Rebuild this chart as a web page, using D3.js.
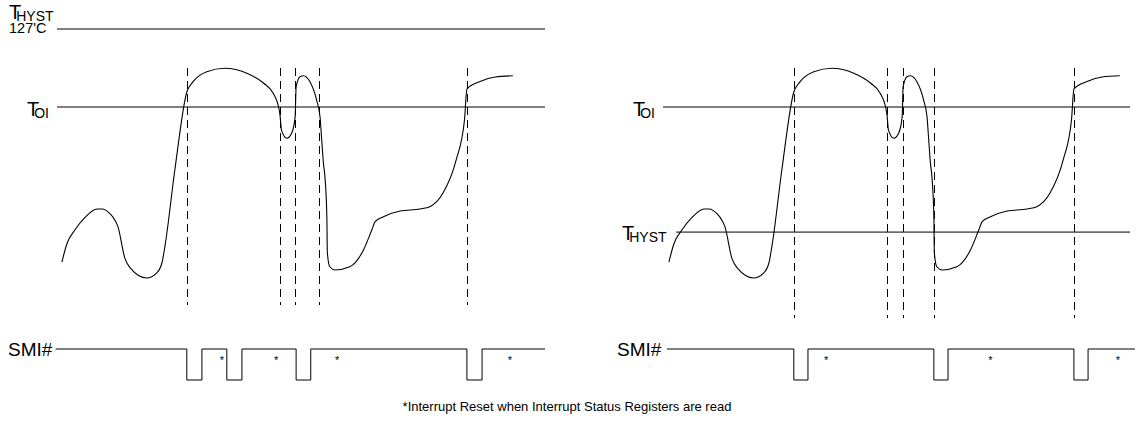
<!DOCTYPE html>
<html>
<head>
<meta charset="utf-8">
<script src="https://cdn.jsdelivr.net/npm/d3@7"></script>
<style>
  body { margin: 0; background: #fff; }
  text { font-family: "Liberation Sans", Arial, sans-serif; fill: #000; }
</style>
</head>
<body>
<div class="chart"></div>
<script>
var svgWidth = 1141;
var svgHeight = 425;

// temperature trace (time units, deg C) - same trace in both panels
var traceTime = [1.0, 2.0, 3.7, 5.6, 8.2, 9.2, 11.0, 11.8, 12.5, 13.9, 15.0, 18.4, 20.4, 21.5, 22.1, 24.2, 26.6,
  27.9, 30.7, 34.4, 38.9, 42.3, 44.3, 45.3, 45.7, 46.0, 47.1, 48.1, 48.8, 49.0, 49.8, 50.5, 51.8,
  53.2, 53.9, 54.2, 54.6, 54.9, 55.3, 55.4, 55.9, 57.0, 60.0, 62.8, 64.5, 65.2, 66.9, 70.3, 74.4,
  76.4, 79.1, 81.8, 83.5, 84.0, 86.7, 89.8, 93.4];
var traceTemp = [46.3, 52.5, 57.5, 61.5, 64.7, 64.7, 62.8, 61.0, 58.5, 47.7, 44.3, 40.8, 42.5, 46.0, 51.6, 78.9, 105.2,
  108.8, 112.2, 113.4, 111.7, 108.3, 104.8, 100.7, 97.2, 92.0, 89.2, 91.0, 96.6, 107.0, 110.5, 110.8, 108.8,
  102.4, 96.6, 89.7, 80.5, 75.9, 62.0, 49.5, 44.7, 43.6, 44.7, 50.5, 57.4, 60.3, 62.0, 64.0, 64.7,
  65.5, 70.2, 81.7, 95.5, 106.2, 108.8, 110.4, 110.8];

// thresholds
var tOI = 100;
var tHystLeft = 127;
var tHystRight = 56.7;

// event markers (dashed lines)
var eventsLeft = [26.6, 45.7, 48.8, 53.7, 84.0];
var eventsRight = [26.6, 45.7, 49.0, 55.3, 84.0];

// SMI# low pulses [start, end]
var pulsesLeft = [[26.6, 29.7], [34.8, 37.9], [49.0, 52.0], [84.0, 87.1]];
var pulsesRight = [[26.6, 29.5], [55.3, 58.2], [84.0, 86.9]];

// reset markers
var starsLeft = [33.8, 44.9, 57.4, 92.8];
var starsRight = [33.2, 66.9, 93.0];

var footnote = "*Interrupt Reset when Interrupt Status Registers are read";

var svg = d3.select(".chart")
  .append("svg")
  .attr("width", svgWidth)
  .attr("height", svgHeight);

var x = d3.scaleLinear().domain([0, 100]).range([57, 545]);
var y = d3.scaleLinear().domain([100, 127]).range([107, 29]);
var ySmi = d3.scaleLinear().domain([0, 1]).range([380, 349]);

var traceLine = d3.line()
  .x(d => x(d[0]))
  .y(d => y(d[1]))
  .curve(d3.curveMonotoneX);

var trace = traceTime.map((t, i) => [t, traceTemp[i]]);

function smiPoints(pulses, t0, t1) {
  var pts = [[t0, 1]];
  pulses.forEach(function(p) {
    pts.push([p[0], 1], [p[0], 0], [p[1], 0], [p[1], 1]);
  });
  pts.push([t1, 1]);
  return pts;
}

var smiLine = d3.line()
  .x(d => x(d[0]))
  .y(d => ySmi(d[1]));

// label T with subscript
function subLabel(g, px, py, sub, dx) {
  var t = g.append("text")
    .attr("x", px)
    .attr("y", py)
    .attr("font-size", 20)
    .text("T");
  t.append("tspan")
    .attr("dx", dx)
    .attr("dy", 1.5)
    .attr("font-size", 14)
    .text(sub);
}

function drawPanel(offset, opts) {
  var g = svg.append("g").attr("transform", `translate(${offset},0)`);

  // threshold lines
  opts.thresholds.forEach(function(th) {
    g.append("line")
      .attr("x1", x(th.from)).attr("x2", x(th.to))
      .attr("y1", y(th.value)).attr("y2", y(th.value))
      .attr("stroke", "#000").attr("stroke-width", 1);
  });

  // dashed event lines
  g.selectAll(".ev")
    .data(opts.events)
    .enter()
    .append("line")
    .attr("class", "ev")
    .attr("x1", d => Math.round(x(d)) + 0.5).attr("x2", d => Math.round(x(d)) + 0.5)
    .attr("y1", 68).attr("y2", opts.dashBottom)
    .attr("stroke", "#000")
    .attr("stroke-width", 1)
    .attr("stroke-dasharray", "8,5");

  // temperature trace
  g.append("path")
    .datum(trace)
    .attr("d", traceLine)
    .attr("fill", "none")
    .attr("stroke", "#000")
    .attr("stroke-width", 1.1);

  // SMI# signal
  g.append("path")
    .datum(smiPoints(opts.pulses, opts.smiFrom, opts.smiTo))
    .attr("d", smiLine)
    .attr("fill", "none")
    .attr("stroke", "#000")
    .attr("stroke-width", 1);

  g.selectAll(".star")
    .data(opts.stars)
    .enter()
    .append("text")
    .attr("class", "star")
    .attr("x", d => x(d))
    .attr("y", 364)
    .attr("text-anchor", "middle")
    .attr("font-size", 11)
    .text("*");

  g.append("text")
    .attr("x", opts.smiLabelX)
    .attr("y", 356)
    .attr("font-size", 19)
    .text("SMI#");

  return g;
}

var left = drawPanel(0, {
  thresholds: [{ value: tHystLeft, from: 0, to: 100 }, { value: tOI, from: 0, to: 100 }],
  events: eventsLeft,
  dashBottom: 305,
  pulses: pulsesLeft,
  smiFrom: -0.3,
  smiTo: 100,
  stars: starsLeft,
  smiLabelX: 8
});

subLabel(left, 9, 19, "HYST", -5);
left.append("text")
  .attr("x", 9).attr("y", 33)
  .attr("font-size", 14.5)
  .text("127'C");
subLabel(left, 27, 116, "OI", -5);

var right = drawPanel(607, {
  thresholds: [{ value: tOI, from: -0.2, to: 95.5 }, { value: tHystRight, from: 2.5, to: 95.5 }],
  events: eventsRight,
  dashBottom: 318,
  pulses: pulsesRight,
  smiFrom: 0.6,
  smiTo: 96.5,
  stars: starsRight,
  smiLabelX: 10
});

subLabel(right, 26, 116, "OI", -5);
subLabel(right, 15, 240, "HYST", -5);

svg.append("text")
  .attr("x", 567)
  .attr("y", 411)
  .attr("text-anchor", "middle")
  .attr("font-size", 13)
  .text(footnote);
</script>
</body>
</html>
